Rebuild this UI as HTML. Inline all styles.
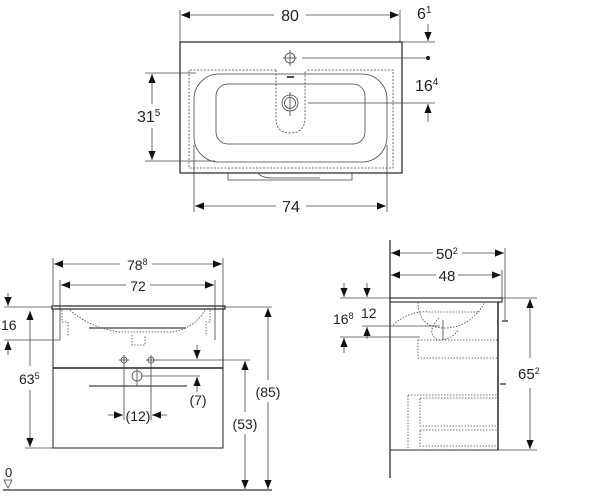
<!DOCTYPE html>
<html><head><meta charset="utf-8"><style>
html,body{margin:0;padding:0;background:#fff;}
svg{display:block;}
text{font-family:"Liberation Sans",sans-serif;fill:#222;}
</style></head><body>
<svg width="600" height="500" viewBox="0 0 600 500" xmlns="http://www.w3.org/2000/svg">
<defs>
<marker id="a" viewBox="0 0 10 10" refX="10" refY="5" markerWidth="9" markerHeight="9" orient="auto-start-reverse" markerUnits="userSpaceOnUse"><path d="M0,1 L10,5 L0,9 Z" fill="#111"/></marker>
</defs>
<g stroke="#444" stroke-width="0.8" fill="none">
<line x1="180" y1="10" x2="180" y2="42"/><line x1="400" y1="10" x2="400" y2="42"/>
<line x1="181" y1="15" x2="274" y2="15" marker-start="url(#a)"/><line x1="306" y1="15" x2="399" y2="15" marker-end="url(#a)"/>
<rect x="180" y="42" width="222" height="131" stroke="#222" stroke-width="1.2"/>
<line x1="402" y1="42" x2="435" y2="42"/>
<line x1="428" y1="24" x2="428" y2="41" marker-end="url(#a)"/>
<circle cx="428" cy="58" r="2" fill="#111" stroke="none"/>
<circle cx="290" cy="58" r="5"/><line x1="283" y1="58" x2="297" y2="58"/><line x1="290" y1="50" x2="290" y2="66"/>
<line x1="302" y1="58" x2="428" y2="58"/>
<path d="M276,70 H189 V168 H393 V70 H306" stroke-dasharray="2,1.5"/>
<path d="M276,70 V118 Q276,133 290,133 Q305,133 305,118 V70" stroke-dasharray="2,1.5"/>
<line x1="287" y1="77" x2="294" y2="77" stroke="#111" stroke-width="1.5"/>
<rect x="194" y="74" width="193" height="88" rx="25"/>
<rect x="216" y="84" width="149" height="60" rx="12"/>
<circle cx="290" cy="103" r="8"/><circle cx="290" cy="103" r="5.5"/>
<line x1="290" y1="92" x2="290" y2="116"/>
<line x1="308" y1="103" x2="435" y2="103"/>
<line x1="428" y1="122" x2="428" y2="104" marker-end="url(#a)"/>
<line x1="145" y1="73" x2="196" y2="73"/><line x1="145" y1="161" x2="215" y2="161"/>
<line x1="152" y1="74" x2="152" y2="104" marker-start="url(#a)"/><line x1="152" y1="128" x2="152" y2="160" marker-end="url(#a)"/>
<path d="M228,173 V180 H352 V173"/><path d="M258,173 Q262,178 272,178 H320"/>
<line x1="194" y1="145" x2="194" y2="212"/><line x1="387" y1="145" x2="387" y2="212"/>
<line x1="195" y1="206" x2="276" y2="206" marker-start="url(#a)"/><line x1="306" y1="206" x2="386" y2="206" marker-end="url(#a)"/>

<line x1="53" y1="258" x2="53" y2="305"/><line x1="223" y1="258" x2="223" y2="340"/>
<line x1="54" y1="264" x2="120" y2="264" marker-start="url(#a)"/><line x1="152" y1="264" x2="222" y2="264" marker-end="url(#a)"/>
<line x1="60" y1="280" x2="60" y2="340"/><line x1="215" y1="280" x2="215" y2="340"/>
<line x1="61" y1="285" x2="126" y2="285" marker-start="url(#a)"/><line x1="150" y1="285" x2="214" y2="285" marker-end="url(#a)"/>
<rect x="52" y="306" width="173" height="3" stroke="#222" stroke-width="1.2"/>
<rect x="53" y="309" width="170" height="139" stroke="#222" stroke-width="1"/>
<line x1="53" y1="368" x2="223" y2="368" stroke="#222" stroke-width="1.5"/>
<path d="M70,310 Q90,328 120,332 H172 Q195,328 205,310" stroke-dasharray="1.5,1.5"/>
<path d="M62,310 V322 H68 V336 M210,310 V322 H206 V336" stroke-dasharray="1.5,1.5"/>
<path d="M132,335 V345 H145 V335" stroke-dasharray="1.5,1.5"/>
<line x1="89" y1="328" x2="186" y2="328" stroke="#777" stroke-width="1.8"/>
<line x1="4" y1="307" x2="52" y2="307"/>
<line x1="8" y1="293" x2="8" y2="306" marker-end="url(#a)"/>
<line x1="4" y1="340" x2="60" y2="340"/>
<line x1="8" y1="355" x2="8" y2="341" marker-end="url(#a)"/>
<line x1="30" y1="311" x2="30" y2="366" marker-start="url(#a)"/><line x1="30" y1="390" x2="30" y2="447" marker-end="url(#a)"/>
<line x1="25" y1="448" x2="53" y2="448"/>
<line x1="89" y1="386" x2="187" y2="386" stroke="#777" stroke-width="1.8"/>
<circle cx="124" cy="360" r="3"/><line x1="119" y1="360" x2="129" y2="360"/>
<circle cx="151" cy="360" r="3"/><line x1="146" y1="360" x2="156" y2="360"/>
<line x1="124" y1="355" x2="124" y2="420"/><line x1="151" y1="355" x2="151" y2="420"/>
<line x1="156" y1="360" x2="250" y2="360"/>
<circle cx="137" cy="376" r="5"/><line x1="137" y1="369" x2="137" y2="386"/>
<line x1="142" y1="376" x2="200" y2="376"/>
<line x1="197" y1="345" x2="197" y2="359" marker-end="url(#a)"/>
<line x1="197" y1="392" x2="197" y2="377" marker-end="url(#a)"/>
<line x1="108" y1="415" x2="123" y2="415" marker-end="url(#a)"/><line x1="167" y1="415" x2="152" y2="415" marker-end="url(#a)"/>
<line x1="225" y1="307" x2="272" y2="307"/>
<line x1="245" y1="361" x2="245" y2="412" marker-start="url(#a)"/><line x1="245" y1="434" x2="245" y2="489" marker-end="url(#a)"/>
<line x1="268" y1="308" x2="268" y2="380" marker-start="url(#a)"/><line x1="268" y1="402" x2="268" y2="489" marker-end="url(#a)"/>
<line x1="3" y1="490" x2="272" y2="490" stroke="#333" stroke-width="1.2"/>
<path d="M4,480 L12,480 L8,488 Z"/>

<line x1="390" y1="240" x2="390" y2="478" stroke="#222" stroke-width="1.2"/>
<line x1="505" y1="248" x2="505" y2="322"/><line x1="502" y1="270" x2="502" y2="298"/>
<line x1="391" y1="253" x2="433" y2="253" marker-start="url(#a)"/><line x1="462" y1="253" x2="504" y2="253" marker-end="url(#a)"/>
<line x1="391" y1="275" x2="436" y2="275" marker-start="url(#a)"/><line x1="458" y1="275" x2="501" y2="275" marker-end="url(#a)"/>
<rect x="390" y="298" width="112" height="4" stroke="#222" stroke-width="1.1"/>
<rect x="390" y="302" width="108" height="148" stroke="#222" stroke-width="1"/>
<line x1="498" y1="302" x2="498" y2="450" stroke="#222" stroke-width="1.5"/>
<line x1="502" y1="321" x2="508" y2="321" stroke="#777" stroke-width="2"/>
<line x1="500" y1="384" x2="506" y2="384" stroke="#777" stroke-width="2"/>
<path d="M418,302 Q418,328 445,328 Q470,328 485,302" stroke-dasharray="1.5,1.5"/>
<path d="M393,325 Q410,310 430,312 H480" stroke-dasharray="1.5,1.5"/>
<path d="M439,318 Q425,333 438,340 Q452,340 458,330" stroke-dasharray="1.5,1.5"/>
<line x1="443" y1="320" x2="443" y2="340"/>
<rect x="418" y="340" width="80" height="18" stroke-dasharray="1.5,1.5"/>
<rect x="408" y="395" width="90" height="55" stroke-dasharray="1.5,1.5"/>
<rect x="420" y="398" width="78" height="28" stroke-dasharray="1.5,1.5"/>
<rect x="420" y="430" width="78" height="16" stroke-dasharray="1.5,1.5"/>
<line x1="340" y1="298" x2="390" y2="298"/>
<line x1="344" y1="283" x2="344" y2="297" marker-end="url(#a)"/>
<line x1="367" y1="283" x2="367" y2="297" marker-end="url(#a)"/>
<line x1="362" y1="326" x2="440" y2="326"/>
<line x1="340" y1="337" x2="420" y2="337"/>
<line x1="367" y1="339" x2="367" y2="327" marker-end="url(#a)"/>
<line x1="344" y1="353" x2="344" y2="338" marker-end="url(#a)"/>
<line x1="502" y1="298" x2="537" y2="298"/><line x1="498" y1="450" x2="537" y2="450"/>
<line x1="530" y1="299" x2="530" y2="358" marker-start="url(#a)"/><line x1="530" y1="388" x2="530" y2="449" marker-end="url(#a)"/>
</g>
<g font-size="16">
<text x="290" y="21" text-anchor="middle">80</text>
<text x="417" y="19">6<tspan font-size="10" dy="-6">1</tspan></text>
<text x="415" y="91">16<tspan font-size="10" dy="-6">4</tspan></text>
<text x="137" y="122">31<tspan font-size="10" dy="-6">5</tspan></text>
<text x="291" y="212" text-anchor="middle">74</text>
<text x="127" y="270" font-size="14">78<tspan font-size="9" dy="-5">8</tspan></text>
<text x="138" y="291" text-anchor="middle" font-size="14">72</text>
<text x="1" y="330" font-size="14">16</text>
<text x="19" y="384" font-size="14">63<tspan font-size="9" dy="-5">5</tspan></text>
<text x="138" y="421" text-anchor="middle" font-size="14">(12)</text>
<text x="198" y="405" text-anchor="middle" font-size="14">(7)</text>
<text x="245" y="429" text-anchor="middle" font-size="14">(53)</text>
<text x="268" y="397" text-anchor="middle" font-size="14">(85)</text>
<text x="5" y="477" font-size="13">0</text>
<text x="436" y="259" font-size="15">50<tspan font-size="9" dy="-5">2</tspan></text>
<text x="447" y="281" text-anchor="middle" font-size="15">48</text>
<text x="333" y="324" font-size="14">16<tspan font-size="9" dy="-5">8</tspan></text>
<text x="361" y="318" font-size="14">12</text>
<text x="518" y="379" font-size="15">65<tspan font-size="9" dy="-5">2</tspan></text>
</g>
</svg>
</body></html>
